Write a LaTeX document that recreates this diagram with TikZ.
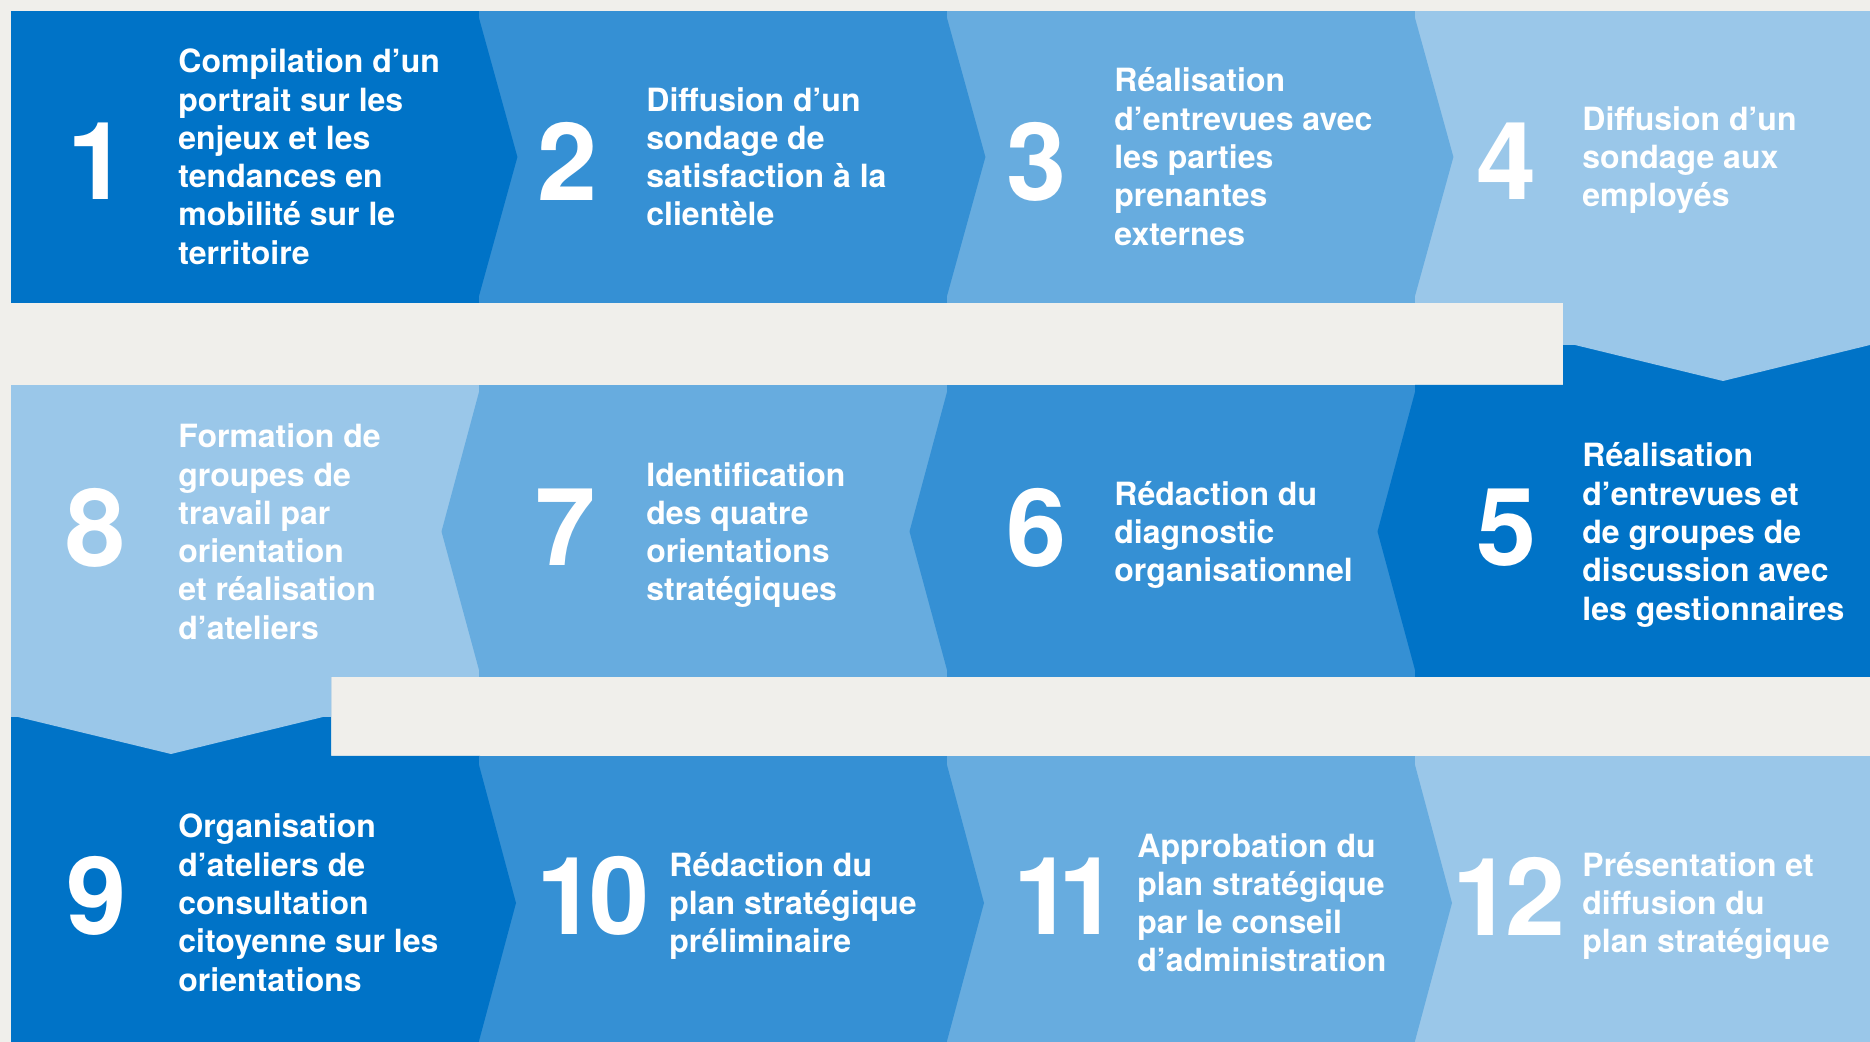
\documentclass[tikz,border=0pt]{standalone}
\usepackage{fontspec}
\setmainfont{TeX Gyre Heros}
\definecolor{paper}{RGB}{240,239,235}
\definecolor{blueA}{RGB}{0,115,199}
\definecolor{blueB}{RGB}{53,144,212}
\definecolor{blueC}{RGB}{103,172,223}
\definecolor{blueD}{RGB}{154,199,233}
\begin{document}
\begin{tikzpicture}[x=0.5pt,y=-0.5pt,
  stepnum/.style={text=white,inner sep=0pt,anchor=center,
    font=\fontsize{54}{54}\selectfont\bfseries},
  % the base anchor of these multi-line nodes sits on the last baseline
  steptext/.style={text=white,inner sep=0pt,anchor=base west,align=left,
    font=\fontsize{16}{19.15}\selectfont\bfseries}]
\useasboundingbox (0,0) rectangle (1870,1042);
\fill[paper] (0,0) rectangle (1870,1042);

% first row: steps 1 to 4
\fill[blueA] (11,11) rectangle (480,303);
\fill[blueB] (479,11) rectangle (948,303);
\fill[blueC] (947,11) rectangle (1416,303);
\fill[blueD] (1415,11) rectangle (1870,303);

% second row: steps 8 to 5 (right to left)
\fill[blueD] (11,385) rectangle (480,677);
\fill[blueC] (479,385) rectangle (948,677);
\fill[blueB] (947,385) rectangle (1416,677);
\fill[blueA] (1415,385) -- (1563,385) -- (1563,303) -- (1870,303)
  -- (1870,677) -- (1415,677) -- cycle;
% downward tab of step 4
\fill[blueD] (1563,302) -- (1870,302) -- (1870,345) -- (1723,381)
  -- (1575,345) -- (1563,345) -- cycle;

% third row: steps 9 to 12
\fill[blueA] (11,677) -- (331,677) -- (331,756) -- (480,756)
  -- (480,1042) -- (11,1042) -- cycle;
\fill[blueB] (479,756) rectangle (948,1042);
\fill[blueC] (947,756) rectangle (1416,1042);
\fill[blueD] (1415,756) rectangle (1870,1042);
% downward tab of step 8
\fill[blueD] (11,676) -- (331,676) -- (331,717) -- (323,717)
  -- (171,754) -- (18,717) -- (11,717) -- cycle;

% arrow points between steps
\fill[blueA] (479,18) -- (517.4,157) -- (479,296) -- cycle;
\fill[blueB] (947,18) -- (985.4,157) -- (947,296) -- cycle;
\fill[blueC] (1415,18) -- (1453.4,157) -- (1415,296) -- cycle;

\fill[blueA] (1415,392) -- (1377.5,531.5) -- (1415,670) -- cycle;
\fill[blueB] (947,392) -- (909.5,531.5) -- (947,670) -- cycle;
\fill[blueC] (479,392) -- (441.5,531.5) -- (479,670) -- cycle;

\fill[blueA] (479,765) -- (516,903) -- (479,1041) -- cycle;
\fill[blueB] (947,765) -- (984,903) -- (947,1041) -- cycle;
\fill[blueC] (1415,765) -- (1452,903) -- (1415,1041) -- cycle;

% step numbers
\node[stepnum] (n1) at (98,161.5) {1};
\node[stepnum] (n2) at (568,161.5) {2};
\node[stepnum] (n3) at (1037,161.5) {3};
\node[stepnum] (n4) at (1507,161.5) {4};
\node[stepnum] (n5) at (1507,527.5) {5};
\node[stepnum] (n6) at (1037,527.5) {6};
\node[stepnum] (n7) at (566,527.5) {7};
\node[stepnum] (n8) at (96,527.5) {8};
\node[stepnum] (n9) at (96.5,896) {9};
\node[stepnum] (n10) at (593,896) {1\kern-4pt 0};
\node[stepnum] (n11) at (1066,896) {1\kern-8pt 1};
\node[stepnum] (n12) at (1509,896) {1\kern-4pt 2};

% step descriptions
\node[steptext] (t1) at (178,264.25) {Compilation d’un\\portrait sur les\\enjeux et les\\tendances en\\mobilité sur le\\territoire};
\node[steptext] (t2) at (646,225.95) {Diffusion d’un\\sondage de\\satisfaction à la\\clientèle};
\node[steptext] (t3) at (1114,245.1) {Réalisation\\d’entrevues avec\\les parties\\prenantes\\externes};
\node[steptext] (t4) at (1582,206.8) {Diffusion d’un\\sondage aux\\employés};

\node[steptext] (t8) at (178,639.25) {Formation de\\groupes de\\travail par\\orientation\\et réalisation\\d’ateliers};
\node[steptext] (t7) at (646,600.95) {Identification\\des quatre\\orientations\\stratégiques};
\node[steptext] (t6) at (1114,581.8) {Rédaction du\\diagnostic\\organisationnel};
\node[steptext] (t5) at (1582,620.1) {Réalisation\\d’entrevues et\\de groupes de\\discussion avec\\les gestionnaires};

\node[steptext] (t9) at (178,991.1) {Organisation\\d’ateliers de\\consultation\\citoyenne sur les\\orientations};
\node[steptext] (t10) at (669,952.8) {Rédaction du\\plan stratégique\\préliminaire};
\node[steptext] (t11) at (1137,971.95) {Approbation du\\plan stratégique\\par le conseil\\d’administration};
\node[steptext] (t12) at (1582,952.8) {Présentation et\\diffusion du\\plan stratégique};
\end{tikzpicture}
\end{document}
